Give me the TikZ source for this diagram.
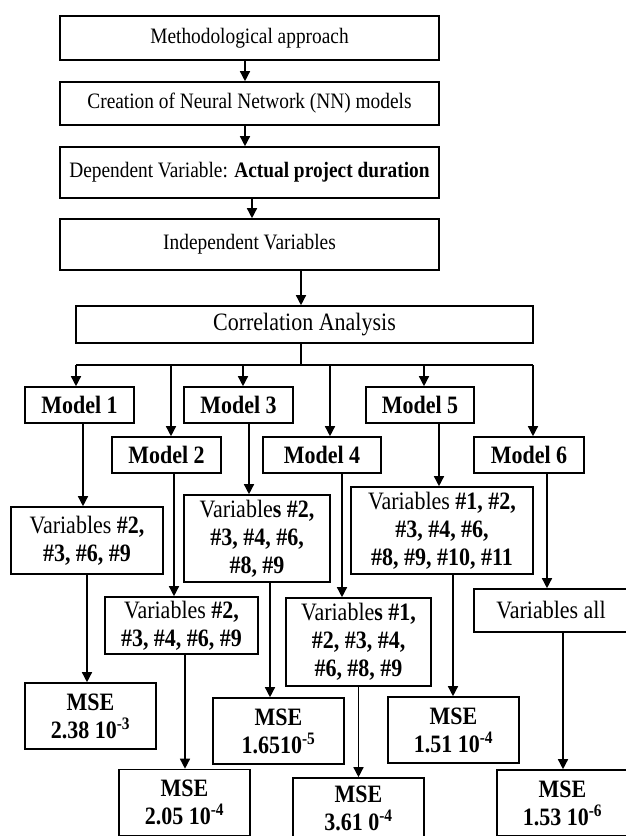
\documentclass[tikz,border=0pt]{standalone}
\usepackage{fontspec}
\setmainfont[FakeStretch=0.88]{Liberation Serif}
\usepackage{tikz}
\usetikzlibrary{positioning,arrows.meta,calc}

\begin{document}
\begin{tikzpicture}[x=1pt,y=-1pt,
  box/.style={draw, line width=1.6pt, inner sep=0pt, align=center,
    font=\fontsize{25}{28}\selectfont},
  topbox/.style={box, minimum width=379pt, font=\fontsize{22}{26}\selectfont},
  modelbox/.style={box, minimum height=36pt, font=\fontsize{25}{28}\selectfont\bfseries},
  msebox/.style={box, minimum width=131pt, minimum height=66pt, font=\fontsize{25}{28}\selectfont\bfseries},
  arr/.style={line width=1.4pt, -{Triangle[length=10pt,width=10pt]}},
  bar/.style={line width=1.4pt}]
  \useasboundingbox (0,0) rectangle (625,836);
  % main chain
  \node[topbox, minimum height=44pt] (meth) at (249.5,38) {Methodological approach};
  \node[topbox, minimum height=43pt] (nn) at (249.5,103.5) {Creation of Neural Network (NN) models};
  \node[topbox, minimum height=51pt] (dep) at (249.5,172.5) {Dependent Variable: \textbf{Actual project duration}};
  \node[topbox, minimum height=51pt] (indep) at (249.5,244.5) {Independent Variables};
  \node[box, minimum width=457pt, minimum height=37pt] (corr) at (304.5,324.5) {Correlation Analysis};
  \draw[arr] ([xshift=-4.5pt]meth.south) -- ([xshift=-4.5pt]nn.north);
  \draw[arr] ([xshift=-4.5pt]nn.south) -- ([xshift=-4.5pt]dep.north);
  \draw[arr] ([xshift=2.5pt]dep.south) -- ([xshift=2.5pt]indep.north);
  \draw[arr] ([xshift=-3.5pt]corr.north |- indep.south) -- ([xshift=-3.5pt]corr.north);
  % models
  \node[modelbox, minimum width=109pt] (m1) at (79.5,405) {Model 1};
  \node[modelbox, minimum width=109pt] (m2) at (166.5,455) {Model 2};
  \node[modelbox, minimum width=109pt] (m3) at (238.5,405) {Model 3};
  \node[modelbox, minimum width=118pt] (m4) at (322,455) {Model 4};
  \node[modelbox, minimum width=108pt] (m5) at (420,405) {Model 5};
  \node[modelbox, minimum width=110pt] (m6) at (529,455) {Model 6};
  \coordinate (bus) at (301,365);
  \draw[bar] ([xshift=-3.5pt]corr.south) -- ([xshift=-3.5pt]corr.south |- bus);
  \draw[bar] ([xshift=-3.5pt]m1.north |- bus) -- ([xshift=4pt]m6.north |- bus);
  \draw[arr] ([xshift=-3.5pt]m1.north |- bus) -- ([xshift=-3.5pt]m1.north);
  \draw[arr] ([xshift=4.5pt]m2.north |- bus) -- ([xshift=4.5pt]m2.north);
  \draw[arr] ([xshift=4.5pt]m3.north |- bus) -- ([xshift=4.5pt]m3.north);
  \draw[arr] ([xshift=8pt]m4.north |- bus) -- ([xshift=8pt]m4.north);
  \draw[arr] ([xshift=4pt]m5.north |- bus) -- ([xshift=4pt]m5.north);
  \draw[arr] ([xshift=4pt]m6.north |- bus) -- ([xshift=4pt]m6.north);
  % variable sets
  \node[box, minimum width=152pt, minimum height=67pt] (v1) at (87,540.5)
    {Variables \textbf{\#2,}\\\textbf{\#3, \#6, \#9}};
  \node[box, minimum width=153pt, minimum height=57pt] (v2) at (181.5,625.5)
    {Variables \textbf{\#2,}\\\textbf{\#3, \#4, \#6, \#9}};
  \node[box, minimum width=146pt, minimum height=87pt] (v3) at (257,538.5)
    {Variable\textbf{s \#2,}\\\textbf{\#3, \#4, \#6,}\\\textbf{\#8, \#9}};
  \node[box, minimum width=145pt, minimum height=88pt] (v4) at (358.5,642)
    {Variable\textbf{s \#1,}\\\textbf{\#2, \#3, \#4,}\\\textbf{\#6, \#8, \#9}};
  \node[box, minimum width=182pt, minimum height=87pt] (v5) at (442,530.5)
    {Variables \textbf{\#1, \#2,}\\\textbf{\#3, \#4, \#6,}\\\textbf{\#8, \#9, \#10, \#11}};
  \node[box, minimum width=154pt, minimum height=43pt] (v6) at (551,610.5) {Variables all};
  \draw[arr] ([xshift=3.5pt]m1.south) -- ([xshift=3.5pt]m1.south |- v1.north);
  \draw[arr] ([xshift=7.5pt]m2.south) -- ([xshift=7.5pt]m2.south |- v2.north);
  \draw[arr] ([xshift=10.5pt]m3.south) -- ([xshift=10.5pt]m3.south |- v3.north);
  \draw[arr] ([xshift=20pt]m4.south) -- ([xshift=20pt]m4.south |- v4.north);
  \draw[arr] ([xshift=19pt]m5.south) -- ([xshift=19pt]m5.south |- v5.north);
  \draw[arr] ([xshift=18pt]m6.south) -- ([xshift=18pt]m6.south |- v6.north);
  % errors
  \node[msebox] (e1) at (90.5,716) {MSE\\2.38 10\textsuperscript{-3}};
  \node[msebox] (e2) at (184.5,802.5) {MSE\\2.05 10\textsuperscript{-4}};
  \node[msebox] (e3) at (278.5,731) {MSE\\1.6510\textsuperscript{-5}};
  \node[msebox, minimum height=60pt] (e4) at (358.5,808) {MSE\\3.61 0\textsuperscript{-4}};
  \node[msebox] (e5) at (453.5,730) {MSE\\1.51 10\textsuperscript{-4}};
  \node[msebox] (e6) at (562.5,803) {MSE\\1.53 10\textsuperscript{-6}};
  \draw[arr] (v1.south) -- (v1.south |- e1.north);
  \draw[arr] ([xshift=3.5pt]v2.south) -- ([xshift=3.5pt]v2.south |- e2.north);
  \draw[arr] ([xshift=13pt]v3.south) -- ([xshift=13pt]v3.south |- e3.north);
  \draw[arr] (v4.south) -- (v4.south |- e4.north);
  \draw[arr] ([xshift=11pt]v5.south) -- ([xshift=11pt]v5.south |- e5.north);
  \draw[arr] ([xshift=12pt]v6.south) -- ([xshift=12pt]v6.south |- e6.north);
\end{tikzpicture}
\end{document}
